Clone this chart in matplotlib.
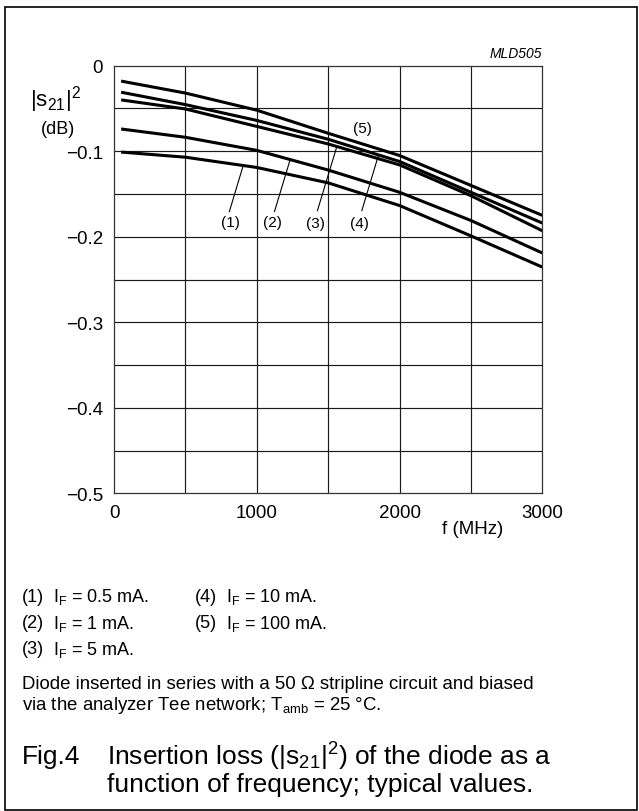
import numpy as np
import matplotlib.pyplot as plt
from matplotlib.patches import Rectangle

plt.rcParams['font.family'] = ['Liberation Sans', 'DejaVu Sans']
plt.rcParams['mathtext.fontset'] = 'custom'
plt.rcParams['mathtext.rm'] = 'Liberation Sans'
plt.rcParams['mathtext.it'] = 'Liberation Sans:italic'

W, H = 639, 812

# values
freq = [50, 500, 1000, 1500, 2000, 2500, 3000]  # MHz
curves = {
    '(1)': [-0.101, -0.107, -0.119, -0.137, -0.1635, -0.199, -0.2355],
    '(2)': [-0.074, -0.0837, -0.099, -0.122, -0.148, -0.181, -0.219],
    '(3)': [-0.040, -0.0506, -0.071, -0.0915, -0.116, -0.152, -0.193],
    '(4)': [-0.031, -0.0455, -0.064, -0.086, -0.112, -0.148, -0.184],
    '(5)': [-0.018, -0.032, -0.052, -0.079, -0.105, -0.140, -0.175],
}
x_ticks = [0, 1000, 2000, 3000]
y_ticks = [0, -0.1, -0.2, -0.3, -0.4, -0.5]
y_tick_labels = ['0', '\u22120.1', '\u22120.2', '\u22120.3', '\u22120.4', '\u22120.5']

# curve labels: (label pos f, y), leader start (f, y), leader tip f on curve
labels = {
    '(1)': ((813, -0.1826), (808, -0.1706), 905),
    '(2)': ((1112, -0.1830), (1124, -0.1706), 1234),
    '(3)': ((1409, -0.1838), (1425, -0.1694), 1561),
    '(4)': ((1719, -0.1838), (1736, -0.1694), 1853),
    '(5)': ((1743, -0.0731), None, None),
}

legend_items = ['I$_\\mathrm{F}$ = 0.5 mA.', 'I$_\\mathrm{F}$ = 1 mA.', 'I$_\\mathrm{F}$ = 5 mA.',
                'I$_\\mathrm{F}$ = 10 mA.', 'I$_\\mathrm{F}$ = 100 mA.']

fig = plt.figure(figsize=(W / 100, H / 100), dpi=100)


def px(x, y):
    # pixel from top-left -> figure fraction
    return x / W, 1 - y / H


ax = fig.add_axes([114 / W, 1 - 494.3 / H, (542.3 - 114) / W, (494.3 - 66.7) / H])
ax.set_xlim(0, 3000)
ax.set_ylim(-0.5, 0)

for v in np.arange(500, 3000, 500):
    ax.axvline(v, color='#1a1a1a', lw=0.85, zorder=1)
for v in np.arange(-0.45, 0, 0.05):
    ax.axhline(v, color='#1a1a1a', lw=0.85, zorder=1)
for s in ax.spines.values():
    s.set_linewidth(0.9)
    s.set_color('#333333')

for name, vals in curves.items():
    ax.plot(freq, vals, color='black', lw=2.2, solid_capstyle='butt', zorder=3)

for name, (pos, start, tip) in labels.items():
    ax.text(pos[0], pos[1], name, fontsize=11, ha='center', va='center', zorder=4)
    if start is not None:
        tip_y = np.interp(tip, freq, curves[name])
        ax.plot([start[0], tip], [start[1], tip_y], color='black', lw=0.8, zorder=3)

ax.set_xticks(x_ticks)
ax.set_yticks(y_ticks)
ax.set_xticklabels([str(v) for v in x_ticks], fontsize=13.5)
ax.set_yticklabels(y_tick_labels, fontsize=13.5)
ax.tick_params(length=0, pad=8)

fig.text(*px(473, 529), 'f (MHz)', fontsize=13.5, ha='center', va='center')
fig.text(*px(55, 100), r'$\mathrm{|s_{21}|^2}$', fontsize=16, ha='center', va='center')
fig.text(*px(58, 130), '(dB)', fontsize=13, ha='center', va='center')
fig.text(*px(541.7, 54.3), 'MLD505', fontsize=10, style='italic', ha='right', va='center')

rows = [597, 624, 650]
for i, item in enumerate(legend_items):
    col = i // 3
    row = i % 3
    x0 = 22 if col == 0 else 195
    fig.text(*px(x0, rows[row]), '(%d)' % (i + 1), fontsize=13, ha='left', va='center')
    fig.text(*px(x0 + 31, rows[row]), item, fontsize=13, ha='left', va='center')

fig.text(*px(22, 685), 'Diode inserted in series with a 50 \u03a9 stripline circuit and biased',
         fontsize=13.4, ha='left', va='center')
fig.text(*px(22, 706), 'via the analyzer Tee network; T$_\\mathrm{amb}$ = 25 \u00b0C.',
         fontsize=13.4, ha='left', va='center')

fig.text(*px(22, 757), 'Fig.4', fontsize=19, ha='left', va='center')
fig.text(*px(107, 757), 'Insertion loss (|s$_\\mathrm{21}$|$^\\mathrm{2}$) of the diode as a',
         fontsize=19, ha='left', va='center')
fig.text(*px(107, 785), 'function of frequency; typical values.', fontsize=19, ha='left', va='center')

fig.patches.append(Rectangle((4.7 / W, 1 - 811 / H), (637 - 4.7) / W, (811 - 8.3) / H,
                             transform=fig.transFigure, fill=False, lw=1.2, color='black'))

fig.savefig('out.png', dpi=100)
